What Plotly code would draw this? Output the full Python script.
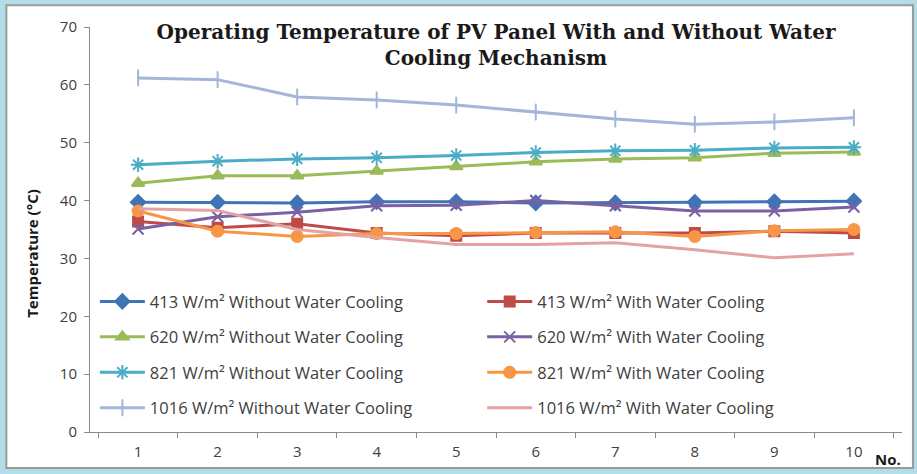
import plotly.graph_objects as go

runs = [str(i) for i in range(1, 11)]

t413_without = [39.7, 39.7, 39.6, 39.8, 39.8, 39.6, 39.6, 39.7, 39.8, 39.9]
t413_with = [36.4, 35.3, 36.0, 34.4, 33.9, 34.4, 34.4, 34.4, 34.7, 34.4]
t620_without = [43.0, 44.3, 44.3, 45.1, 45.9, 46.7, 47.2, 47.4, 48.2, 48.4]
t620_with = [35.1, 37.2, 38.0, 39.1, 39.2, 40.0, 39.1, 38.2, 38.2, 38.9]
t821_without = [46.2, 46.8, 47.2, 47.4, 47.8, 48.3, 48.6, 48.7, 49.1, 49.2]
t821_with = [38.2, 34.7, 33.8, 34.3, 34.3, 34.5, 34.6, 33.8, 34.8, 35.0]
t1016_without = [61.2, 60.9, 57.9, 57.4, 56.5, 55.3, 54.1, 53.2, 53.6, 54.3]
t1016_with = [38.6, 38.3, 35.0, 33.6, 32.4, 32.4, 32.7, 31.5, 30.1, 30.8]

series = [
    # name, values, colour, marker symbol, marker size, legend
    ("413 W/m² Without Water Cooling", t413_without, "#3F74B6", "diamond", 11, "legend"),
    ("413 W/m² With Water Cooling", t413_with, "#BE4B48", "square", 10, "legend2"),
    ("620 W/m² Without Water Cooling", t620_without, "#9BBB59", "triangle-up", 11, "legend"),
    ("620 W/m² With Water Cooling", t620_with, "#7B60A2", "x-thin-open", 11, "legend2"),
    ("821 W/m² Without Water Cooling", t821_without, "#4BACC6", "asterisk-open", 12, "legend"),
    ("821 W/m² With Water Cooling", t821_with, "#F79646", "circle", 11, "legend2"),
    ("1016 W/m² Without Water Cooling", t1016_without, "#A4B5DA", "line-ns-open", 12, "legend"),
    ("1016 W/m² With Water Cooling", t1016_with, "#E3A3A4", "circle", 0, "legend2"),
]

fig = go.Figure()
for i, (name, vals, color, symbol, size, leg) in enumerate(series):
    fig.add_trace(go.Scatter(
        x=runs, y=vals, name=name, mode="lines+markers" if size else "lines",
        line=dict(color=color, width=3),
        marker=dict(symbol=symbol, size=size, color=color,
                    line=dict(color=color, width=2)),
        legend=leg, legendgroup=f"g{i}",
    ))

legend_common = dict(
    orientation="v", xanchor="left", yanchor="top", y=0.365,
    bgcolor="rgba(0,0,0,0)", tracegroupgap=11, itemwidth=45,
    font=dict(family="Open Sans", size=16.5, color="#404040"),
)

fig.update_layout(
    width=917, height=474,
    paper_bgcolor="#B3DDE9", plot_bgcolor="white",
    margin=dict(l=90, r=15, t=27, b=42),
    title=dict(
        text="<b>Operating Temperature of PV Panel With and Without Water<br>Cooling Mechanism</b>",
        x=0.5, xref="paper", xanchor="center",
        y=0.918, yref="container", yanchor="top",
        font=dict(family="DejaVu Serif", size=20, color="#1a1a1a"),
    ),
    legend=dict(x=0.006, **legend_common),
    legend2=dict(x=0.483, **legend_common),
    xaxis=dict(
        type="category", showgrid=False, showline=True, linecolor="#8a8a8a",
        linewidth=1, ticks="outside", tickson="boundaries", ticklen=5,
        ticklabelstandoff=6,
        tickcolor="#8a8a8a", tickfont=dict(family="Open Sans", size=15, color="#404040"),
    ),
    yaxis=dict(
        range=[0, 70], dtick=10, showgrid=False, zeroline=False, showline=True,
        linecolor="#8a8a8a", linewidth=1, ticks="outside", ticklen=5,
        ticklabelstandoff=4,
        tickcolor="#8a8a8a", tickfont=dict(family="Open Sans", size=15, color="#404040"),
    ),
    shapes=[dict(
        type="rect", xref="paper", yref="paper", layer="below",
        x0=-0.103, x1=1.0135, y0=-0.0889, y1=1.054,
        fillcolor="white", line=dict(color="#9a9a9a", width=2),
    )],
    annotations=[
        dict(text="<b>No.</b>", xref="paper", yref="paper", x=0.983, y=-0.067,
             xanchor="center", yanchor="middle", showarrow=False,
             font=dict(family="Open Sans", size=15, color="#1a1a1a")),
        dict(text="<b>Temperature (°C)</b>", xref="paper", yref="paper",
             x=-0.0714, y=0.44, textangle=-90, xanchor="center", yanchor="middle",
             showarrow=False,
             font=dict(family="Open Sans", size=15, color="#1a1a1a")),
    ],
)

fig.write_html("out.html", config={"displayModeBar": False},
               post_script="document.body.style.margin='0';")
